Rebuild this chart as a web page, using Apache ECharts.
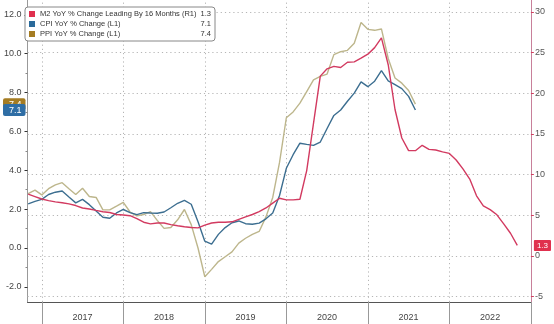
<!DOCTYPE html>
<html><head><meta charset="utf-8">
<script src="https://cdn.jsdelivr.net/npm/echarts@6/dist/echarts.min.js"></script>
<style>html,body{margin:0;padding:0;background:#fff}#c{width:554px;height:324px}</style>
</head><body><div id="c"></div>
<script>
// Monthly data, first value = Nov 2016
const startYear = 2016;
const startMonthNum = 11;
const seriesNames = ['M2 YoY % Change Leading By 16 Months (R1)', 'CPI YoY % Change (L1)', 'PPI YoY % Change (L1)'];
const lastValues = ['1.3', '7.1', '7.4'];
const m2Values = [7.6, 7.3, 7.0, 6.8, 6.65, 6.55, 6.4, 6.2, 5.9, 5.78, 5.6, 5.43, 5.35, 5.1, 5.04, 4.95, 4.6, 4.15, 3.95, 4.05, 4.05, 3.85, 3.72, 3.6, 3.5, 3.45, 3.8, 4.05, 4.14, 4.14, 4.2, 4.5, 4.8, 5.1, 5.45, 5.9, 6.5, 7.1, 6.9, 6.9, 6.97, 10.5, 16.3, 22.1, 23.0, 23.3, 23.15, 23.8, 23.85, 24.3, 24.8, 25.6, 26.8, 23.5, 18.0, 14.5, 12.95, 12.94, 13.6, 13.1, 13.02, 12.8, 12.6, 11.8, 10.7, 9.45, 7.4, 6.15, 5.7, 5.06, 3.95, 2.8, 1.3];
const cpiValues = [2.27, 2.4, 2.5, 2.75, 2.87, 2.93, 2.62, 2.32, 2.5, 2.23, 1.9, 1.58, 1.53, 1.8, 1.98, 1.82, 1.72, 1.82, 1.8, 1.79, 1.85, 2.07, 2.3, 2.45, 2.25, 1.35, 0.35, 0.2, 0.7, 1.05, 1.3, 1.39, 1.25, 1.22, 1.28, 1.5, 1.8, 2.7, 4.1, 4.8, 5.39, 5.33, 5.28, 5.45, 6.15, 6.82, 7.1, 7.55, 7.97, 8.55, 8.3, 8.58, 9.13, 8.6, 8.4, 8.2, 7.8, 7.1];
const ppiValues = [2.8, 2.98, 2.73, 3.05, 3.25, 3.36, 3.05, 2.75, 3.07, 2.65, 2.6, 1.96, 1.96, 2.15, 2.35, 1.85, 1.65, 1.72, 1.87, 1.42, 1.01, 1.05, 1.45, 1.98, 1.2, 0.0, -1.48, -1.1, -0.7, -0.45, -0.2, 0.25, 0.5, 0.7, 0.85, 1.6, 2.6, 4.4, 6.7, 7.0, 7.45, 8.05, 8.65, 8.83, 8.95, 9.95, 10.1, 10.17, 10.53, 11.6, 11.25, 11.2, 11.27, 9.75, 8.75, 8.48, 8.1, 7.4];
const yearLabels = ['2017', '2018', '2019', '2020', '2021', '2022'];
const leftTicks = [-2, 0, 2, 4, 6, 8, 10, 12];
const leftMinor = [-1, 1, 3, 5, 7, 9, 11];
const rightTicks = [-5, 0, 5, 10, 15, 20, 25, 30];

const colors = { m2: '#d23a60', cpi: '#3c6e90', ppi: '#bdb68c' };
const legendColors = ['#e0304e', '#2a6a9a', '#a57c22'];
const tagColors = { cpi: '#2f6ea5', ppi: '#a57c22', m2: '#e0304e' };

// month index: 0 = Jan of first year label
const baseYear = +yearLabels[0];
const startIdx = (startYear - baseYear) * 12 + (startMonthNum - 1);
const toPairs = arr => arr.map((v, i) => [startIdx + i, v]);
const nYears = yearLabels.length;
const yearBounds = Array.from({length: nYears + 1}, (_, i) => i * 12);
const yearMids = yearLabels.map((_, i) => i * 12 + 6);
const quarterTicks = [];
for (let q = 0; q <= nYears * 12; q += 3) if (q % 12 !== 0) quarterTicks.push(q);

const xMin = -2.1, xMax = nYears * 12;
const lMin = -2.78, lMax = 12.76;
const rMin = -5.65, rMax = 31.45;
const font = 'Liberation Sans';

const chart = echarts.init(document.getElementById('c'), null, {renderer: 'canvas'});
const baseY = (extra) => Object.assign({type: 'value', splitLine: {show: false}, axisLine: {show: false, onZero: false}, axisTick: {show: false}, axisLabel: {show: false}}, extra);
const tagRich = (bg) => ({backgroundColor: bg, color: '#fff', fontSize: 9, padding: [2, 4, 1, 6], borderRadius: 2, fontFamily: font});

chart.setOption({
  animation: false,
  textStyle: {fontFamily: font},
  grid: {left: 24, right: 20, top: 0, bottom: 22, containLabel: false},
  legend: {
    orient: 'vertical', left: 25, top: 7, icon: 'rect', itemWidth: 6, itemHeight: 6, itemGap: 2,
    backgroundColor: '#fff', borderColor: '#888', borderWidth: 1, borderRadius: 3, padding: [3, 4, 3, 4],
    selectedMode: false, z: 10,
    textStyle: {fontFamily: font, fontSize: 7.5, color: '#333', rich: {
      n: {width: 160, fontSize: 7.5, color: '#333', lineHeight: 9, fontFamily: font},
      v: {width: 11, align: 'right', fontSize: 7.5, color: '#333', lineHeight: 9, fontFamily: font}
    }},
    formatter: name => '{n|' + name + '}{v|' + lastValues[seriesNames.indexOf(name)] + '}',
    data: seriesNames.map((n, i) => ({name: n, itemStyle: {color: legendColors[i]}}))
  },
  xAxis: [
    {type: 'value', min: xMin, max: xMax, splitLine: {show: false},
      axisLine: {show: true, onZero: false, lineStyle: {color: '#555', width: 1}},
      axisTick: {show: true, customValues: yearBounds, length: 22, lineStyle: {color: '#999'}},
      axisLabel: {show: true, customValues: yearMids, margin: 11, fontSize: 9, color: '#444',
        formatter: v => yearLabels[Math.round((v - 6) / 12)]}},
    {type: 'value', min: xMin, max: xMax, splitLine: {show: false}, axisLine: {show: false, onZero: false},
      axisTick: {show: true, customValues: quarterTicks, length: 3, lineStyle: {color: '#777'}},
      axisLabel: {show: false}}
  ],
  yAxis: [
    {type: 'value', position: 'left', min: lMin, max: lMax, splitLine: {show: false},
      axisLine: {show: true, onZero: false, lineStyle: {color: '#999'}},
      axisTick: {show: true, customValues: leftTicks, length: 3, lineStyle: {color: '#333'}},
      axisLabel: {show: true, customValues: leftTicks, margin: 6, fontSize: 9, color: '#444', formatter: v => v.toFixed(1)}},
    {type: 'value', position: 'right', min: rMin, max: rMax, splitLine: {show: false},
      axisLine: {show: true, onZero: false, lineStyle: {color: '#c8809a'}},
      axisTick: {show: true, customValues: rightTicks, length: 3, lineStyle: {color: '#d04060'}},
      axisLabel: {show: true, customValues: rightTicks, margin: 4, fontSize: 9, color: '#555'}},
    baseY({position: 'left', min: lMin, max: lMax,
      axisTick: {show: true, customValues: leftMinor, length: 2, lineStyle: {color: '#888'}}}),
    baseY({position: 'left', min: lMin, max: lMax,
      axisLabel: {show: true, customValues: [+lastValues[2]], margin: 2,
        formatter: v => '{p|' + v.toFixed(1) + '}', rich: {p: tagRich(tagColors.ppi)}}}),
    baseY({position: 'left', min: lMin, max: lMax,
      axisLabel: {show: true, customValues: [+lastValues[1]], margin: 2,
        formatter: v => '{c|' + v.toFixed(1) + '}', rich: {c: tagRich(tagColors.cpi)}}}),
    baseY({position: 'right', min: rMin, max: rMax,
      axisLabel: {show: true, customValues: [+lastValues[0]], margin: 3,
        formatter: v => '{m|' + v.toFixed(1) + '}',
        rich: {m: {backgroundColor: tagColors.m2, color: '#fff', fontSize: 8, padding: [2, 3, 1, 3], borderRadius: 1, fontFamily: font}}}})
  ],
  series: [
    {name: seriesNames[2], type: 'line', xAxisIndex: 0, yAxisIndex: 0, data: toPairs(ppiValues), showSymbol: false,
      lineStyle: {color: colors.ppi, width: 1.4}, itemStyle: {color: colors.ppi}, z: 3},
    {name: seriesNames[1], type: 'line', xAxisIndex: 0, yAxisIndex: 0, data: toPairs(cpiValues), showSymbol: false,
      lineStyle: {color: colors.cpi, width: 1.4}, itemStyle: {color: colors.cpi}, z: 4},
    {name: seriesNames[0], type: 'line', xAxisIndex: 0, yAxisIndex: 1, data: toPairs(m2Values), showSymbol: false,
      lineStyle: {color: colors.m2, width: 1.4}, itemStyle: {color: colors.m2}, z: 5,
      markLine: {silent: true, symbol: 'none', label: {show: false}, z: 1,
        lineStyle: {color: '#b5b5b5', type: [1.2, 3], width: 1},
        data: rightTicks.map(v => ({yAxis: v})).concat(yearBounds.slice(0, -1).map(v => ({xAxis: v})))}}
  ]
});
</script></body></html>
